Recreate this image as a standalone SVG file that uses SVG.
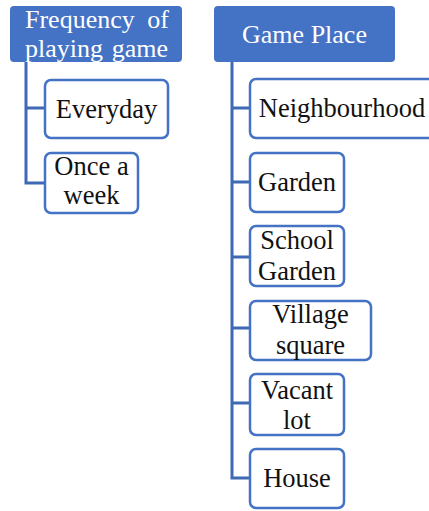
<svg xmlns="http://www.w3.org/2000/svg" width="429" height="511" viewBox="0 0 429 511">
  <style>
    .hdr { fill: #4472C4; }
    .box { fill: #FFFFFF; stroke: #4472C4; stroke-width: 2.5; }
    .lbl { font-family: "Liberation Serif", "Times New Roman", serif; font-size: 26.5px; fill: #111111; text-anchor: middle; }
    .hlbl { font-family: "Liberation Serif", "Times New Roman", serif; font-size: 26px; fill: #FFFFFF; }
    .conn { fill: none; stroke: #3F68B5; stroke-width: 3; }
  </style>
  <rect width="429" height="511" fill="#FFFFFF"/>

  <!-- tree connectors -->
  <g id="connectors" class="conn">
    <path d="M26,62 V183 H45 M26,108 H45"/>
    <path d="M232,62 V478 H250 M232,108 H250 M232,182 H250 M232,257 H250 M232,328 H250 M232,403 H250"/>
  </g>

  <!-- left branch -->
  <g id="frequency">
    <rect class="hdr" x="10" y="6" width="172" height="56" rx="4"/>
    <text class="hlbl" x="25" y="28">Frequency</text>
    <text class="hlbl" x="169" y="28" text-anchor="end">of</text>
    <text class="hlbl" x="25" y="57">playing</text>
    <text class="hlbl" x="168" y="57" text-anchor="end">game</text>
  </g>
  <g id="everyday">
    <rect class="box" x="45" y="80" width="123" height="58" rx="6"/>
    <text class="lbl" x="106.5" y="118">Everyday</text>
  </g>
  <g id="once-a-week">
    <rect class="box" x="45" y="153" width="93" height="60" rx="6"/>
    <text class="lbl" x="91.5" y="175">Once a</text>
    <text class="lbl" x="91.5" y="204">week</text>
  </g>

  <!-- right branch -->
  <g id="game-place">
    <rect class="hdr" x="214" y="6" width="181" height="56" rx="4"/>
    <text class="hlbl" x="304.5" y="43" text-anchor="middle">Game Place</text>
  </g>
  <g id="neighbourhood">
    <rect class="box" x="250" y="79" width="186" height="59" rx="6"/>
    <text class="lbl" x="342" y="117">Neighbourhood</text>
  </g>
  <g id="garden">
    <rect class="box" x="250" y="153" width="94" height="59" rx="6"/>
    <text class="lbl" x="297" y="191">Garden</text>
  </g>
  <g id="school-garden">
    <rect class="box" x="250" y="226" width="94" height="60" rx="6"/>
    <text class="lbl" x="297" y="249">School</text>
    <text class="lbl" x="297" y="280">Garden</text>
  </g>
  <g id="village-square">
    <rect class="box" x="250" y="301" width="121" height="59" rx="6"/>
    <text class="lbl" x="310.5" y="323">Village</text>
    <text class="lbl" x="310.5" y="354">square</text>
  </g>
  <g id="vacant-lot">
    <rect class="box" x="250" y="374" width="94" height="61" rx="6"/>
    <text class="lbl" x="297" y="399">Vacant</text>
    <text class="lbl" x="297" y="429">lot</text>
  </g>
  <g id="house">
    <rect class="box" x="250" y="449" width="94" height="59" rx="6"/>
    <text class="lbl" x="297" y="487">House</text>
  </g>
</svg>
